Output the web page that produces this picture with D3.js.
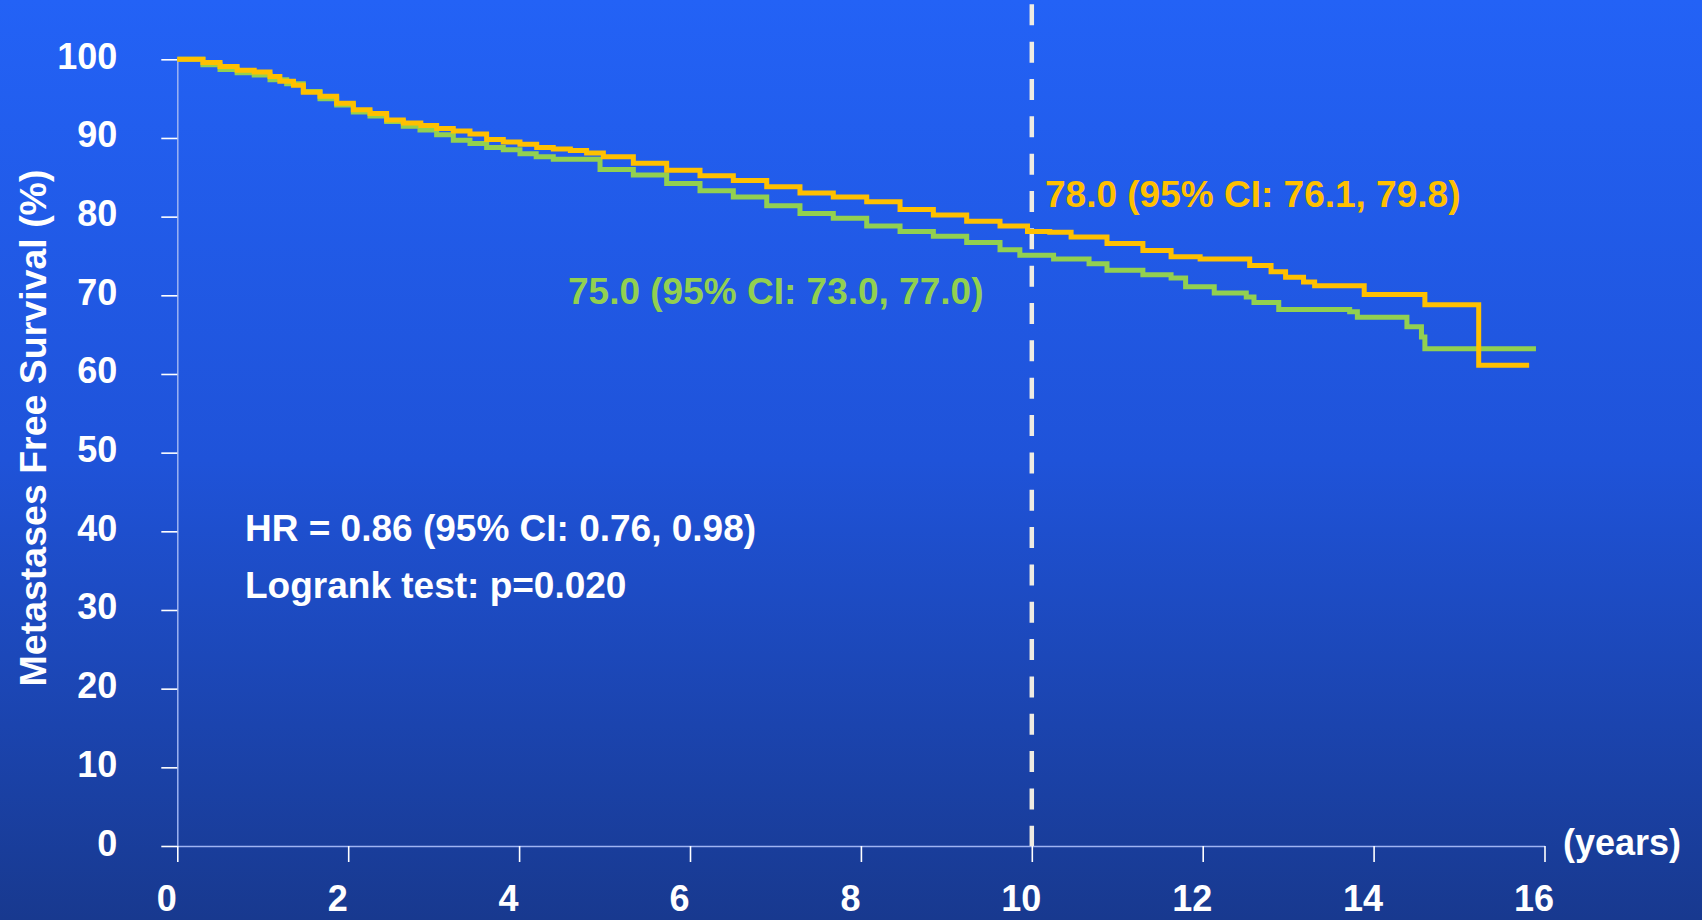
<!DOCTYPE html>
<html>
<head>
<meta charset="utf-8">
<script src="https://cdn.jsdelivr.net/npm/d3@7"></script>
<style>
  html, body { margin: 0; padding: 0; background: #1f50d6; }
  svg { display: block; }
  text { font-family: "Liberation Sans", Arial, sans-serif; font-weight: bold; }
</style>
</head>
<body>
<svg id="chart" width="1702" height="920"></svg>
<script>
// ---- data ----
const xTicks = [0, 2, 4, 6, 8, 10, 12, 14, 16];
const yTicks = [0, 10, 20, 30, 40, 50, 60, 70, 80, 90, 100];
const xUnitLabel = "(years)";
const yTitle = "Metastases Free Survival (%)";
const cutoffYear = 10;

// orange arm: [years, survival %]
const orangeCurve = [
  [0,100],[0.3,99.6],[0.5,99.1],[0.7,98.6],[0.9,98.4],[1.085,97.8],[1.2,97.2],[1.36,96.7],
  [1.475,95.8],[1.67,95.3],[1.865,94.4],[2.06,93.6],[2.255,93.1],[2.45,92.3],[2.645,91.9],
  [2.85,91.6],[3.035,91.2],[3.23,90.9],[3.425,90.5],[3.62,89.8],[3.815,89.5],[4.01,89.2],
  [4.206,88.8],[4.4,88.6],[4.6,88.4],[4.79,88.1],[4.986,87.6],[5.337,86.8],[5.727,85.9],
  [6.117,85.2],[6.507,84.6],[6.898,83.8],[7.287,83.0],[7.677,82.5],[8.068,81.9],[8.458,80.9],
  [8.848,80.2],[9.238,79.4],[9.628,78.8],[9.95,78.1],[10.21,78.0],[10.46,77.4],[10.88,76.6],
  [11.30,75.7],[11.63,74.9],[11.97,74.6],[12.55,73.8],[12.80,73.0],[12.97,72.3],[13.18,71.7],
  [13.31,71.2],[13.89,70.1],[14.60,68.8],[15.23,61.1],[15.82,61.1]
];
// green arm: [years, survival %]
const greenCurve = [
  [0,100],[0.3,99.3],[0.5,98.7],[0.7,98.3],[0.9,98.0],[1.085,97.4],[1.28,96.9],[1.475,95.9],
  [1.67,95.0],[1.865,94.2],[2.06,93.3],[2.255,92.8],[2.45,92.1],[2.645,91.5],[2.84,91.0],
  [3.035,90.4],[3.23,89.7],[3.425,89.3],[3.62,88.8],[3.815,88.5],[4.01,88.0],[4.2,87.6],
  [4.4,87.3],[4.947,86.0],[5.337,85.3],[5.727,84.2],[6.117,83.3],[6.507,82.5],[6.898,81.4],
  [7.287,80.4],[7.677,79.8],[8.068,78.8],[8.458,78.1],[8.848,77.5],[9.238,76.7],[9.628,75.8],
  [9.86,75.1],[10.255,74.6],[10.67,74.0],[10.88,73.2],[11.30,72.6],[11.63,72.2],[11.80,71.1],
  [12.135,70.3],[12.51,69.8],[12.60,69.1],[12.89,68.2],[13.72,67.9],[13.81,67.2],[14.39,66.0],
  [14.56,64.7],[14.60,63.2],[15.9,63.2]
];
const orangeLabel = "78.0 (95% CI: 76.1, 79.8)";
const greenLabel = "75.0 (95% CI: 73.0, 77.0)";
const statsLines = ["HR = 0.86 (95% CI: 0.76, 0.98)", "Logrank test: p=0.020"];

// ---- drawing ----
const W = 1702, H = 920;
const svg = d3.select("#chart");

const defs = svg.append("defs");
const grad = defs.append("linearGradient").attr("id", "bg").attr("x1", 0).attr("y1", 0).attr("x2", 0).attr("y2", 1);
grad.append("stop").attr("offset", "0%").attr("stop-color", "#2362f6");
grad.append("stop").attr("offset", "50%").attr("stop-color", "#1f53d9");
grad.append("stop").attr("offset", "100%").attr("stop-color", "#18398f");
svg.append("rect").attr("width", W).attr("height", H).attr("fill", "url(#bg)");

const x = d3.scaleLinear().domain([0, 16]).range([177.3, 1544.5]);
const y = d3.scaleLinear().domain([0, 100]).range([846, 59.3]);

// y axis
const yAxis = svg.append("g").attr("transform", `translate(${x(0)},0)`)
  .call(d3.axisLeft(y).tickValues(yTicks).tickSize(16).tickSizeOuter(0).tickPadding(44));
// x axis
const xAxis = svg.append("g").attr("transform", `translate(0,${y(0)})`)
  .call(d3.axisBottom(x).tickValues(xTicks).tickSize(16).tickSizeOuter(0).tickPadding(23));

[yAxis, xAxis].forEach(g => {
  g.select(".domain").attr("stroke", "#9fb4f2").attr("stroke-width", 1.5);
  g.selectAll(".tick line").attr("stroke", "#ffffff").attr("stroke-width", 1.6);
  g.selectAll(".tick text").attr("fill", "#ffffff").attr("font-size", 36)
    .style("font-family", '"Liberation Sans", Arial, sans-serif').style("font-weight", "bold");
});
yAxis.selectAll(".tick text").attr("dy", "0.25em");
xAxis.selectAll(".tick text").attr("dx", -11);

// unit label
svg.append("text").attr("x", 1563).attr("y", 855).attr("fill", "#fff").attr("font-size", 36).text(xUnitLabel);

// y title
svg.append("text")
  .attr("transform", `translate(46,428) rotate(-90)`)
  .attr("text-anchor", "middle").attr("fill", "#fff").attr("font-size", 37.5)
  .text(yTitle);

// dashed cutoff line
svg.append("line")
  .attr("x1", x(cutoffYear)).attr("x2", x(cutoffYear))
  .attr("y1", 4.3).attr("y2", y(0))
  .attr("stroke", "#eeebe2").attr("stroke-width", 4.5)
  .attr("stroke-dasharray", "21,16.34");

// curves
const line = d3.line().x(d => x(d[0])).y(d => y(d[1])).curve(d3.curveStepAfter);
svg.append("path").datum(greenCurve).attr("d", line)
  .attr("fill", "none").attr("stroke", "#92d050").attr("stroke-width", 5);
svg.append("path").datum(orangeCurve).attr("d", line)
  .attr("fill", "none").attr("stroke", "#ffc000").attr("stroke-width", 5);

// annotations
svg.append("text").attr("x", 1045).attr("y", 207).attr("fill", "#ffc000").attr("font-size", 37).text(orangeLabel);
svg.append("text").attr("x", 568).attr("y", 304).attr("fill", "#92d050").attr("font-size", 37).text(greenLabel);
svg.selectAll("text.stat").data(statsLines).enter().append("text")
  .attr("class", "stat").attr("x", 245).attr("y", (d, i) => 541 + i * 57)
  .attr("fill", "#fff").attr("font-size", 37).text(d => d);
</script>
</body>
</html>
